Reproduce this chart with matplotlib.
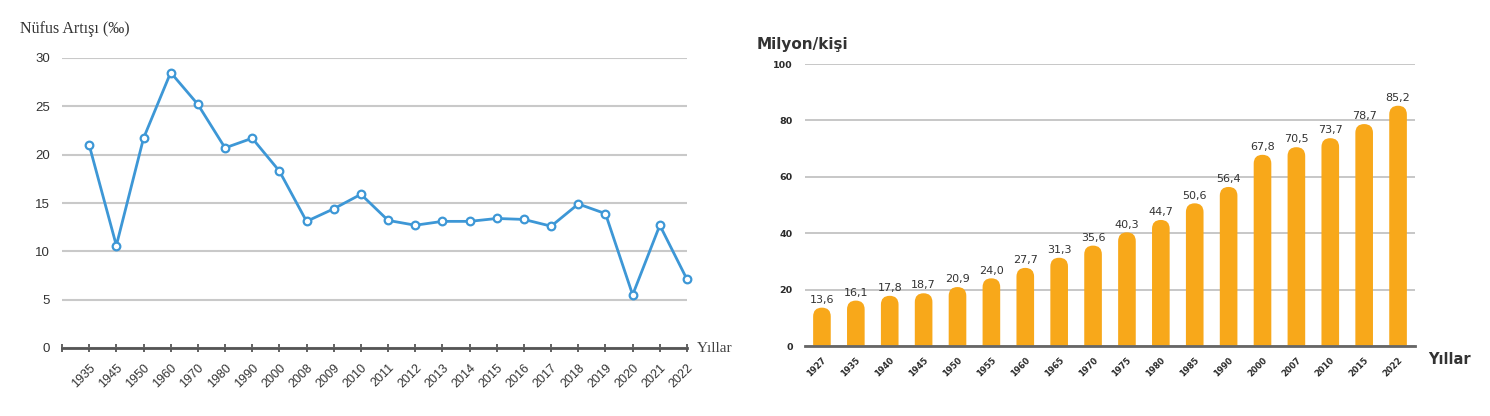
import matplotlib
matplotlib.use('Agg')
import matplotlib.pyplot as plt
from matplotlib.patches import FancyBboxPatch

# ---- data ----
growth_years = ['1935', '1945', '1950', '1960', '1970', '1980', '1990', '2000',
                '2008', '2009', '2010', '2011', '2012', '2013', '2014', '2015',
                '2016', '2017', '2018', '2019', '2020', '2021', '2022']
growth_rate = [21.0, 10.6, 21.7, 28.5, 25.2, 20.7, 21.7, 18.3,
               13.1, 14.4, 15.9, 13.2, 12.7, 13.1, 13.1, 13.4,
               13.3, 12.6, 14.9, 13.9, 5.5, 12.7, 7.1]
growth_yticks = [0, 5, 10, 15, 20, 25, 30]

pop_years = ['1927', '1935', '1940', '1945', '1950', '1955', '1960', '1965', '1970',
             '1975', '1980', '1985', '1990', '2000', '2007', '2010', '2015', '2022']
population = [13.6, 16.1, 17.8, 18.7, 20.9, 24.0, 27.7, 31.3, 35.6,
              40.3, 44.7, 50.6, 56.4, 67.8, 70.5, 73.7, 78.7, 85.2]
pop_yticks = [0, 20, 40, 60, 80, 100]

SANS = ['Liberation Sans', 'DejaVu Sans']
WIDE = ['DejaVu Sans']
SERIF = ['Liberation Serif', 'DejaVu Serif']

fig = plt.figure(figsize=(14.9, 4.16), dpi=100)

# ---------------- left: line chart ----------------
ax1 = fig.add_axes([62 / 1490, 1 - 348 / 416, 625 / 1490, 290 / 416])
xs = list(range(len(growth_years)))
ax1.plot(xs, growth_rate, color='#3d97d6', lw=2.0, marker='o', ms=5.5,
         mfc='white', mec='#3d97d6', mew=1.6, zorder=3, clip_on=False)
ax1.set_xlim(-1, len(growth_years) - 1)
ax1.set_ylim(0, 30)
ax1.set_yticks(growth_yticks)
ax1.grid(axis='y', color='#c9c9c9', lw=1.5)
ax1.set_axisbelow(True)
for s in ['top', 'right', 'left']:
    ax1.spines[s].set_visible(False)
ax1.spines['bottom'].set_color('#555555')
ax1.spines['bottom'].set_linewidth(2.0)
ax1.set_xticks(list(range(-1, len(growth_years))))
ax1.set_xticklabels([''] + growth_years, rotation=45, ha='right', va='top',
                    rotation_mode='anchor', fontsize=9, color='#333333',
                    family=SANS)
ax1.tick_params(axis='x', direction='inout', length=6, width=1.3,
                color='#555555', pad=7)
ax1.tick_params(axis='y', length=0, pad=8.5, labelsize=9.5, labelcolor='#333333')
for lab in ax1.get_yticklabels():
    lab.set_family(SANS)
fig.text(20 / 1490, 1 - 29 / 416, 'Nüfus Artışı (‰)', family=SERIF,
         fontsize=11.5, color='#333333', va='center', ha='left')
fig.text(697 / 1490, 1 - 348 / 416, 'Yıllar', family=SERIF,
         fontsize=11, color='#444444', va='center', ha='left')

# ---------------- right: bar chart ----------------
ax2 = fig.add_axes([805 / 1490, 1 - 346 / 416, 610 / 1490, 282 / 416])
px = list(range(len(pop_years)))
ax2.set_xlim(-0.5, len(pop_years) - 0.5)
ax2.set_ylim(0, 100)
ax2.set_yticks(pop_yticks)
ax2.grid(axis='y', color='#bdbdbd', lw=1.2)
ax2.set_axisbelow(True)
for s in ['top', 'right', 'left']:
    ax2.spines[s].set_visible(False)
ax2.spines['bottom'].set_color('#666666')
ax2.spines['bottom'].set_linewidth(2.0)
ax2.spines['bottom'].set_zorder(5)

bars = ax2.bar(px, population, width=0.52, color='#f8a81a')
fig.canvas.draw()
# convert pixel radius between x and y data units
bw = bars[0].get_width()
p0 = ax2.transData.transform((0, 0))
p1 = ax2.transData.transform((1, 1))
px_per_x = p1[0] - p0[0]
px_per_y = p1[1] - p0[1]
aspect = px_per_x / px_per_y
rx = bw / 2
ry = rx * aspect
for b in bars:
    x0, w, h = b.get_x(), b.get_width(), b.get_height()
    b.remove()
    patch = FancyBboxPatch((x0, -ry), w, h + ry,
                           boxstyle=f"round,pad=0,rounding_size={rx}",
                           mutation_aspect=aspect, fc='#f8a81a', ec='none',
                           zorder=2)
    ax2.add_patch(patch)
for x, v in zip(px, population):
    ax2.annotate(f"{v:.1f}".replace('.', ','), (x, v), xytext=(0, 2),
                 textcoords='offset points', ha='center', va='bottom',
                 fontsize=8, color='#333333', family=WIDE)

ax2.set_xticks(px)
ax2.set_xticklabels(pop_years, rotation=45, ha='right', va='top',
                    rotation_mode='anchor', fontsize=6, color='#2a2a2a',
                    family=WIDE, weight='bold')
ax2.tick_params(axis='x', length=0, pad=7)
ax2.tick_params(axis='y', length=0, pad=9, labelsize=6.8, labelcolor='#2a2a2a')
for lab in ax2.get_yticklabels():
    lab.set_family(WIDE)
    lab.set_weight('bold')
fig.text(757 / 1490, 1 - 44 / 416, 'Milyon/kişi', family=WIDE, weight='bold',
         fontsize=11, color='#333333', va='center', ha='left')
fig.text(1428 / 1490, 1 - 359 / 416, 'Yıllar', family=WIDE, weight='bold',
         fontsize=10.5, color='#333333', va='center', ha='left')

fig.savefig('out.png', dpi=100, facecolor='white')
